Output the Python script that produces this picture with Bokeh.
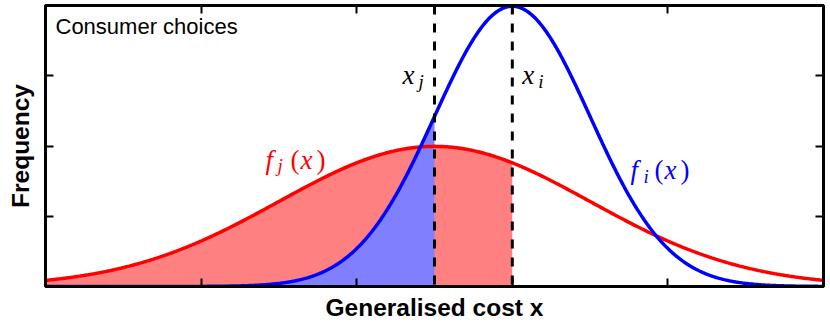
import numpy as np
from bokeh.plotting import figure
from bokeh.models import Range1d, LinearAxis, FixedTicker, Span, Label, CustomJSTickFormatter
from bokeh.embed import file_html
from bokeh.resources import INLINE

# ---- data ----
x_min, x_max = 0.0, 10.0
y_min, y_max = 0.0, 0.4
mu_i, sigma_i = 6.0, 1.0     # blue curve f_i(x)
mu_j, sigma_j = 5.0, 2.0     # red curve f_j(x)
x_ticks = [2, 4, 6, 8]
y_ticks = [0.1, 0.2, 0.3]
x_label = "Generalised cost x"
y_label = "Frequency"
corner_text = "Consumer choices"

x = np.linspace(x_min, x_max, 801)
f_i = np.exp(-0.5 * ((x - mu_i) / sigma_i) ** 2) / (sigma_i * np.sqrt(2 * np.pi))
f_j = np.exp(-0.5 * ((x - mu_j) / sigma_j) ** 2) / (sigma_j * np.sqrt(2 * np.pi))

RED = "#FF0000"
BLUE = "#0000FF"

p = figure(width=830, height=326,
           x_range=Range1d(x_min, x_max), y_range=Range1d(y_min, y_max),
           output_backend="svg", toolbar_location=None,
           min_border_left=45, min_border_right=7,
           min_border_top=5, min_border_bottom=40)
p.grid.visible = False
p.background_fill_color = "white"
p.border_fill_color = "white"
p.outline_line_color = "black"
p.outline_line_width = 3

# fills
m_red = x <= mu_i
p.varea(x=x[m_red], y1=0, y2=f_j[m_red], fill_color="#FF8080", fill_alpha=1.0)
m_blue = x <= mu_j
p.varea(x=x[m_blue], y1=0, y2=f_i[m_blue], fill_color="#8080FF", fill_alpha=1.0)

# curves
p.line(x, f_j, line_color=RED, line_width=3.5)
p.line(x, f_i, line_color=BLUE, line_width=3.5)

# dashed markers
for xv in (mu_j, mu_i):
    p.add_layout(Span(location=xv, dimension="height", line_color="black",
                      line_width=3, line_dash="9 9"))

blank = CustomJSTickFormatter(code="return '';")

# axes
def style_axis(ax, ticks):
    ax.ticker = FixedTicker(ticks=ticks)
    ax.formatter = blank
    ax.major_tick_in = 8
    ax.major_tick_out = 0
    ax.minor_tick_in = 0
    ax.minor_tick_out = 0
    ax.major_tick_line_color = "black"
    ax.major_tick_line_width = 2
    ax.axis_line_color = "black"
    ax.axis_line_width = 3
    ax.major_label_standoff = 0
    ax.axis_label_text_font = "Liberation Sans"
    ax.axis_label_text_font_style = "bold"
    ax.axis_label_text_font_size = "24.5px"
    ax.axis_label_text_color = "black"
    ax.axis_label_standoff = 7

style_axis(p.xaxis[0], x_ticks)
style_axis(p.yaxis[0], y_ticks)
p.xaxis[0].axis_label = x_label
p.yaxis[0].axis_label = y_label
p.yaxis[0].axis_label_standoff = 12

top_ax = LinearAxis()
style_axis(top_ax, x_ticks)
p.add_layout(top_ax, "above")
right_ax = LinearAxis()
style_axis(right_ax, y_ticks)
p.add_layout(right_ax, "right")

LIFT = 7  # pixel lift applied to all text annotations

# text annotations
p.add_layout(Label(x=0.1285, y=0.360, y_offset=LIFT, text=corner_text,
                   text_font="Liberation Sans", text_font_size="22px",
                   text_color="black", text_baseline="alphabetic"))

def math_label(x0, y0, pieces, color):
    for txt, dx, dy, italic, size in pieces:
        p.add_layout(Label(x=x0, y=y0, x_offset=dx, y_offset=dy + LIFT, text=txt,
                           text_font="Liberation Serif",
                           text_font_style="italic" if italic else "normal",
                           text_font_size=size, text_color=color,
                           text_baseline="alphabetic", text_align="left"))

BIG, SUB = "27px", "19px"
# x_j and x_i markers
math_label(mu_j, 0.2904, [("x", -32, 0, True, BIG), ("j", -16, -6, True, SUB)], "black")
math_label(mu_i, 0.2904, [("x", 10, 0, True, BIG), ("i", 26, -6, True, SUB)], "black")
# f_j(x) and f_i(x)
math_label(2.828, 0.1708, [("f", 0, 0, True, BIG), ("j", 12, -6, True, SUB),
                           ("(", 25, 0, False, BIG), ("x", 35, 0, True, BIG),
                           (")", 51, 0, False, BIG)], RED)
math_label(7.519, 0.1552, [("f", 0, 0, True, BIG), ("i", 13, -6, True, SUB),
                           ("(", 24, 0, False, BIG), ("x", 34, 0, True, BIG),
                           (")", 50, 0, False, BIG)], BLUE)

open("out.html", "w").write(file_html(p, INLINE))
